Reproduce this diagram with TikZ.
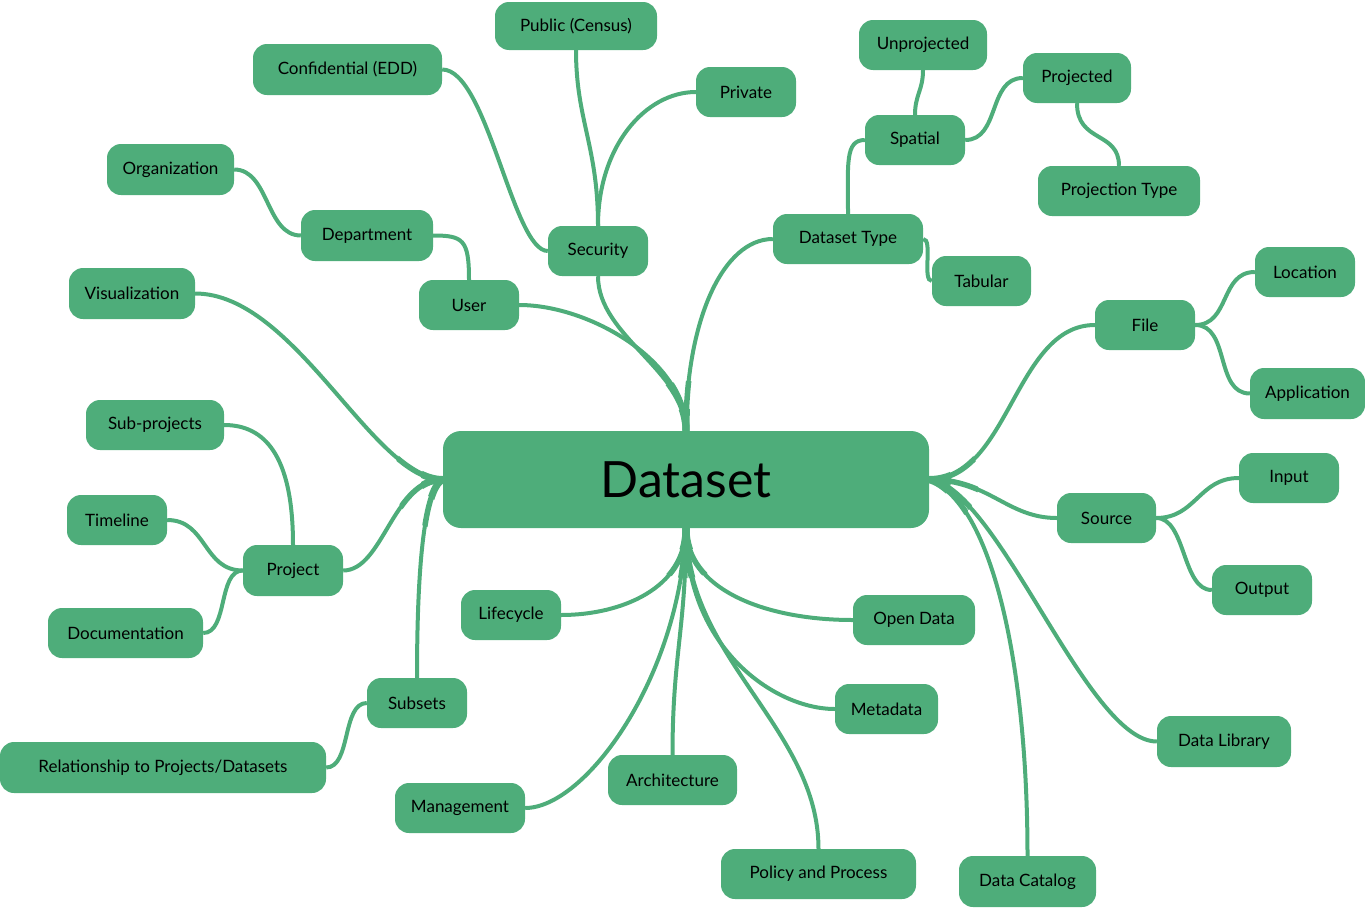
\documentclass[tikz,border=0pt]{standalone}
\usepackage{fontspec}
\setmainfont{Lato}
\usetikzlibrary{backgrounds}
\definecolor{mmgreen}{RGB}{78,173,122}
\tikzset{
  box/.style={fill=mmgreen, draw=none, rounded corners=14pt, inner sep=0pt,
    font=\fontsize{17}{20}\selectfont, text=black},
  link/.style={draw=mmgreen, line width=4pt},
}
\newcommand{\rootlinks}[1]{%
  \draw[#1] (ds.north) .. controls +(0,-60) and +(0,60) .. (sec.south);
  \draw[#1] (ds.north) .. controls +(0,-70) and +(70,0) .. (usr.east);
  \draw[#1] (ds.north) .. controls +(0,-110) and +(-50,0) .. (dtype.west);
  \draw[#1] (ds.west) .. controls +(-70,0) and +(100,0) .. (vis.east);
  \draw[#1] (ds.west) .. controls +(-50,0) and +(40,0) .. (proj.east);
  \draw[#1] (ds.west) .. controls +(-20,10) and +(0,-100) .. (subs.north);
  \draw[#1] (ds.south) .. controls +(0,60) and +(60,0) .. (life.east);
  \draw[#1] (ds.south) .. controls +(-6,150) and +(60,0) .. (mgmt.east);
  \draw[#1] (ds.south) .. controls +(0,100) and +(0,-100) .. (arch.north);
  \draw[#1] (ds.south) .. controls +(0,130) and +(0,-120) .. (pol.north);
  \draw[#1] (ds.south) .. controls +(0,120) and +(-60,0) .. (meta.west);
  \draw[#1] (ds.south) .. controls +(0,60) and +(-90,0) .. (open.west);
  \draw[#1] (ds.east) .. controls +(60,20) and +(0,-200) .. (cat.north);
  \draw[#1] (ds.east) .. controls +(70,10) and +(-70,0) .. (lib.west);
  \draw[#1] (ds.east) .. controls +(60,0) and +(-50,0) .. (src.west);
  \draw[#1] (ds.east) .. controls +(80,0) and +(-80,0) .. (file.west);
}
\begin{document}
\begin{tikzpicture}[x=1pt,y=-1pt]
\useasboundingbox (0,0) rectangle (1365,908);
% central node
\node[box, minimum width=486pt, minimum height=97pt, rounded corners=18pt,
  font=\fontsize{50}{60}\selectfont] (ds) at (686,479.5) {Dataset};
% nodes
\node[box, minimum width=162pt, minimum height=48pt] (pub) at (576,26) {Public (Census)};
\node[box, minimum width=189pt, minimum height=51pt] (conf) at (347.5,69.5) {Confidential (EDD)};
\node[box, minimum width=100pt, minimum height=50pt] (priv) at (746,92) {Private};
\node[box, minimum width=100pt, minimum height=50pt] (sec) at (598,251) {Security};
\node[box, minimum width=127pt, minimum height=51pt] (org) at (170.5,169.5) {Organization};
\node[box, minimum width=132pt, minimum height=51pt] (dep) at (367,235.5) {Department};
\node[box, minimum width=100pt, minimum height=50pt] (usr) at (469,305) {User};
\node[box, minimum width=126pt, minimum height=51pt] (vis) at (132,293.5) {Visualization};
\node[box, minimum width=138pt, minimum height=50pt] (subp) at (155,425) {Sub-projects};
\node[box, minimum width=100pt, minimum height=50pt] (tim) at (117,520) {Timeline};
\node[box, minimum width=100pt, minimum height=51pt] (proj) at (293,570.5) {Project};
\node[box, minimum width=155pt, minimum height=50pt] (doc) at (125.5,633) {Documentation};
\node[box, minimum width=100pt, minimum height=50pt] (life) at (511,615) {Lifecycle};
\node[box, minimum width=100pt, minimum height=50pt] (subs) at (417,703) {Subsets};
\node[box, minimum width=326pt, minimum height=51pt] (rel) at (163,767.5) {Relationship to Projects/Datasets};
\node[box, minimum width=130pt, minimum height=50pt] (mgmt) at (460,808) {Management};
\node[box, minimum width=129pt, minimum height=50pt] (arch) at (672.5,780) {Architecture};
\node[box, minimum width=195pt, minimum height=50pt] (pol) at (818.5,874) {Policy and Process};
\node[box, minimum width=137pt, minimum height=51pt] (cat) at (1027.5,881.5) {Data Catalog};
\node[box, minimum width=103pt, minimum height=50pt] (meta) at (886.5,709) {Metadata};
\node[box, minimum width=122pt, minimum height=50pt] (open) at (914,620) {Open Data};
\node[box, minimum width=134pt, minimum height=51pt] (lib) at (1224,741.5) {Data Library};
\node[box, minimum width=99pt, minimum height=50pt] (src) at (1106.5,518) {Source};
\node[box, minimum width=100pt, minimum height=50pt] (inp) at (1289,478) {Input};
\node[box, minimum width=100pt, minimum height=50pt] (outp) at (1262,590) {Output};
\node[box, minimum width=100pt, minimum height=50pt] (file) at (1145,325) {File};
\node[box, minimum width=100pt, minimum height=50pt] (loc) at (1305,272) {Location};
\node[box, minimum width=115pt, minimum height=51pt] (app) at (1307.5,393.5) {Application};
\node[box, minimum width=150pt, minimum height=50pt] (dtype) at (848,239) {Dataset Type};
\node[box, minimum width=99pt, minimum height=50pt] (tab) at (981.5,281) {Tabular};
\node[box, minimum width=100pt, minimum height=50pt] (spat) at (915,140) {Spatial};
\node[box, minimum width=128pt, minimum height=50pt] (unp) at (923,45) {Unprojected};
\node[box, minimum width=108pt, minimum height=50pt] (prj) at (1077,78) {Projected};
\node[box, minimum width=162pt, minimum height=50pt] (ptype) at (1119,191) {Projection Type};
\begin{pgfonlayer}{background}
  \rootlinks{link}
  \begin{scope}
    \clip (ds.north) circle (50pt) (ds.south) circle (50pt) (ds.west) circle (50pt) (ds.east) circle (50pt);
    \rootlinks{link, line width=5.5pt}
  \end{scope}
  \begin{scope}
    \clip (ds.north) circle (22pt) (ds.south) circle (22pt) (ds.west) circle (22pt) (ds.east) circle (22pt);
    \rootlinks{link, line width=7pt}
  \end{scope}
  % secondary links
  \draw[link] (sec.north) .. controls +(0,-80) and +(0,70) .. (pub.south);
  \draw[link] (sec.north) .. controls +(0,-80) and +(-50,0) .. (priv.west);
  \draw[link] (sec.west) .. controls +(-35,0) and +(45,0) .. (conf.east);
  \draw[link] (usr.north) .. controls +(0,-40) and +(30,0) .. (dep.east);
  \draw[link] (dep.west) .. controls +(-35,0) and +(35,0) .. (org.east);
  \draw[link] (proj.north) .. controls +(0,-90) and +(40,0) .. (subp.east);
  \draw[link] (proj.west) .. controls +(-40,0) and +(40,0) .. (tim.east);
  \draw[link] (proj.west) .. controls +(-25,0) and +(25,0) .. (doc.east);
  \draw[link] (subs.west) .. controls +(-25,0) and +(25,0) .. (rel.east);
  \draw[link] (dtype.north) .. controls +(0,-50) and +(-20,0) .. (spat.west);
  \draw[link] (dtype.east) .. controls +(10,0) and +(-10,0) .. (tab.west);
  \draw[link] (spat.north) .. controls +(0,-20) and +(0,20) .. (unp.south);
  \draw[link] (spat.east) .. controls +(35,0) and +(-35,0) .. (prj.west);
  \draw[link] (prj.south) .. controls +(0,40) and +(0,-35) .. (ptype.north);
  \draw[link] (file.east) .. controls +(35,0) and +(-35,0) .. (loc.west);
  \draw[link] (file.east) .. controls +(35,0) and +(-35,0) .. (app.west);
  \draw[link] (src.east) .. controls +(40,0) and +(-40,0) .. (inp.west);
  \draw[link] (src.east) .. controls +(30,0) and +(-30,0) .. (outp.west);
\end{pgfonlayer}
\end{tikzpicture}
\end{document}
